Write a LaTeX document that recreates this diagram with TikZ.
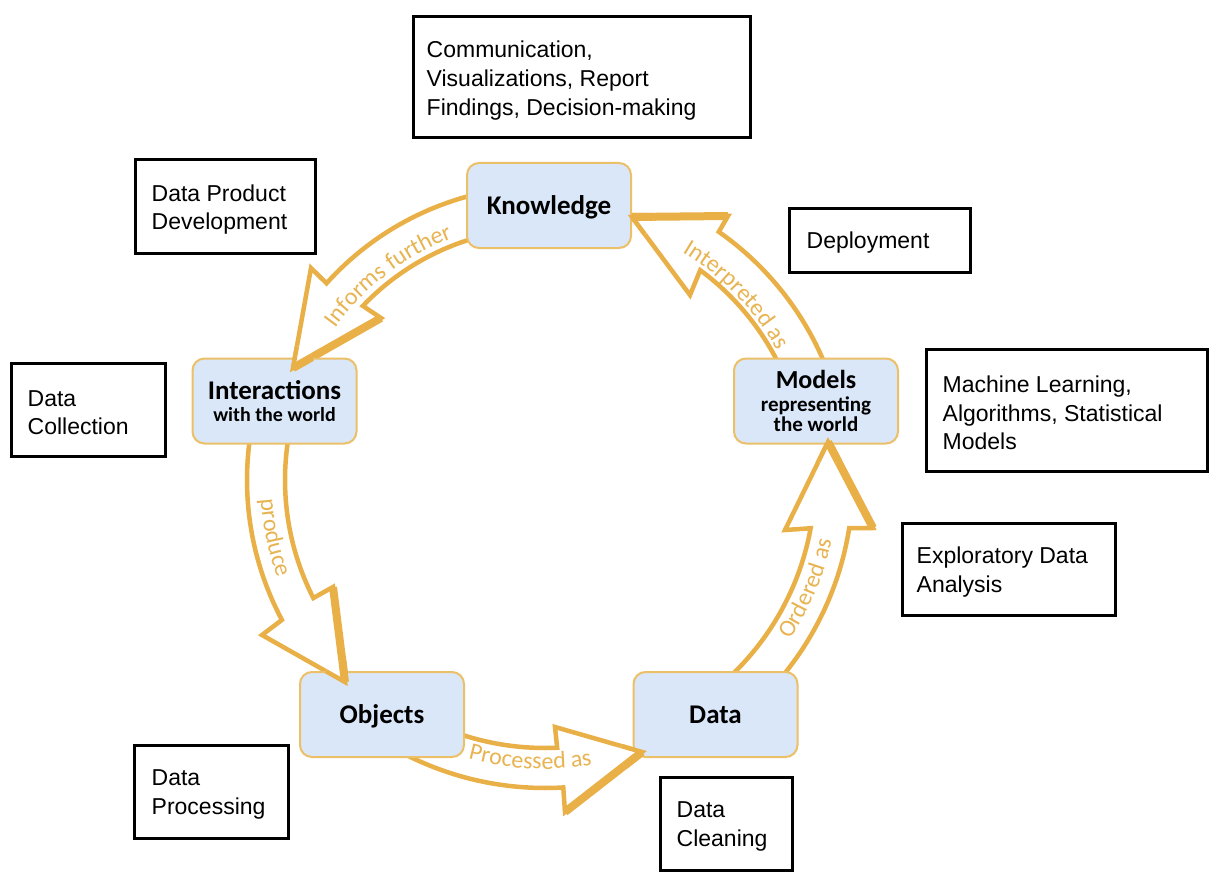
\documentclass[tikz,border=0pt]{standalone}
\usepackage{fontspec}
\setmainfont{Liberation Sans}
\newfontfamily\calib{Carlito}
\usetikzlibrary{decorations.text,calc}
\definecolor{arrowc}{RGB}{232,176,70}
\definecolor{labelc}{RGB}{232,180,82}
\definecolor{nodefill}{RGB}{218,231,248}
\definecolor{nodeline}{RGB}{236,192,104}
\newcommand\lblfont{\calib\fontsize{24}{24}\selectfont\color{labelc}}
\tikzset{
  stage/.style={draw=nodeline, line width=2pt, fill=nodefill, rounded corners=12pt,
    minimum width=164pt, minimum height=85pt, inner sep=0pt, align=center},
  oneline/.style={text height=22pt, text depth=4pt},
  infobox/.style={draw=black, line width=3pt, inner sep=0pt, fill=white},
  infotext/.style={anchor=west, align=left, inner sep=0pt, yshift=-3pt, font=\fontsize{23}{28.6}\selectfont},
  blockarrow/.style={draw=arrowc, line width=4.5pt, fill=white, line join=miter},
  shadeedge/.style={draw=arrowc, line width=8pt},
}
\def\pathA{plot[domain=-100:-138, samples=30] ({545+294*cos(\x)},{480+294*sin(\x)}) -- (311,268) -- (293,368) -- (381,318) -- plot[domain=-136.3:-100, samples=30] ({545+252*cos(\x)},{480+252*sin(\x)}) -- cycle}
\def\pathB{plot[domain=-22:-55, samples=30] ({545+303*cos(\x)},{480+303*sin(\x)}) -- (728,216) -- (632,217) -- (690,295) -- plot[domain=-53.5:-24, samples=30] ({545+261*cos(\x)},{480+261*sin(\x)}) -- cycle}
\def\pathC{plot[domain=190:152, samples=30] ({545+298*cos(\x)},{480+298*sin(\x)}) -- (262,635) -- (345,682) -- (333,587) -- plot[domain=153:190, samples=30] ({545+260*cos(\x)},{480+260*sin(\x)}) -- cycle}
\def\pathD{plot[domain=112:87.4, samples=30] ({545+268*cos(\x)},{480+268*sin(\x)}) -- (555,727) -- (642,752) -- (565,812) -- plot[domain=86.6:120, samples=30] ({545+308*cos(\x)},{480+308*sin(\x)}) -- cycle}
\def\pathE{plot[domain=48:10.3, samples=30] ({545+270*cos(\x)},{480+270*sin(\x)}) -- (785,530) -- (828,442) -- (873,528) -- plot[domain=9:42, samples=30] ({545+308*cos(\x)},{480+308*sin(\x)}) -- cycle}
\begin{document}
\begin{tikzpicture}[x=1pt, y=-1pt]
\fill[white] (0,0) rectangle (1221,880);
\useasboundingbox (0,0) rectangle (1221,880);
\coordinate (c) at (545,480);

% block arrows
\draw[blockarrow] \pathA;
\draw[shadeedge] (293,368) -- (381,318);
\draw[blockarrow] \pathB;
\draw[shadeedge] (632,217) -- (728,216);
\draw[blockarrow] \pathC;
\draw[shadeedge] (333,587) -- (345,682);
\draw[blockarrow] \pathD;
\draw[shadeedge] (642,752) -- (565,812);
\draw[blockarrow] \pathE;
\draw[shadeedge] (828,442) -- (873,528);

% arrow labels
\path[decorate, decoration={text along path, text align=center, text={|\lblfont|Informs further}}]
  plot[domain=-150:-105, samples=60] ({545+259*cos(\x)},{480+259*sin(\x)});
\path[decorate, decoration={text along path, text align=center, text={|\lblfont|Interpreted as}}]
  plot[domain=-72:-16, samples=60] ({545+266*cos(\x)},{480+266*sin(\x)});
\path[decorate, decoration={text along path, text align=center, text={|\lblfont|produce}}]
  plot[domain=192:144, samples=60] ({545+285*cos(\x)},{480+285*sin(\x)});
\path[decorate, decoration={text along path, text align=center, text={|\lblfont|Processed as}}]
  plot[domain=118:68, samples=60] ({545+289*cos(\x)},{480+289*sin(\x)});
\path[decorate, decoration={text along path, text align=center, text={|\lblfont|Ordered as}}]
  plot[domain=45:0, samples=60] ({545+293*cos(\x)},{480+293*sin(\x)});

% stage nodes
\node[stage, oneline, font=\calib\bfseries\fontsize{27}{27}\selectfont] (know) at (549,205.5) {Knowledge};
\node[stage, font=\calib\bfseries\fontsize{20}{22}\selectfont] (inter) at (274.5,401)
  {{\fontsize{27}{27}\selectfont Interactions}\\with the world};
\node[stage, font=\calib\bfseries\fontsize{21}{20}\selectfont] (models) at (816,401)
  {{\fontsize{26}{26}\selectfont Models}\\[3pt]representing\\the world};
\node[stage, oneline, font=\calib\bfseries\fontsize{27}{27}\selectfont] (objects) at (382,714.5) {Objects};
\node[stage, oneline, font=\calib\bfseries\fontsize{27}{27}\selectfont] (data) at (715.5,714.5) {Data};

% arrow tips drawn over the nodes
\begin{scope}\clip (293,368) circle (22pt); \draw[blockarrow] \pathA; \draw[shadeedge] (293,368) -- (381,318);\end{scope}
\begin{scope}\clip (632,217) circle (22pt); \draw[blockarrow] \pathB; \draw[shadeedge] (632,217) -- (728,216);\end{scope}
\begin{scope}\clip (345,682) circle (22pt); \draw[blockarrow] \pathC; \draw[shadeedge] (333,587) -- (345,682);\end{scope}
\begin{scope}\clip (642,752) circle (22pt); \draw[blockarrow] \pathD; \draw[shadeedge] (642,752) -- (565,812);\end{scope}
\begin{scope}\clip (828,442) circle (22pt); \draw[blockarrow] \pathE; \draw[shadeedge] (828,442) -- (873,528);\end{scope}

% information boxes
\node[infobox, minimum width=337pt, minimum height=121pt] (comm) at (581.5,77.5) {};
\node[infotext] (commtext) at ([xshift=15pt]comm.west) {Communication,\\Visualizations, Report\\Findings, Decision-making};
\node[infobox, minimum width=180pt, minimum height=93pt] (dpd) at (225,206.5) {};
\node[infotext] (dpdtext) at ([xshift=18pt]dpd.west) {Data Product\\Development};
\node[infobox, minimum width=181pt, minimum height=64pt] (deploy) at (879.5,240) {};
\node[infotext] (deploytext) at ([xshift=19pt]deploy.west) {Deployment};
\node[infobox, minimum width=154pt, minimum height=93pt] (dcoll) at (88,409.5) {};
\node[infotext] (dcolltext) at ([xshift=18pt]dcoll.west) {Data\\Collection};
\node[infobox, minimum width=281pt, minimum height=122pt] (ml) at (1066.5,410) {};
\node[infotext] (mltext) at ([xshift=18pt]ml.west) {Machine Learning,\\Algorithms, Statistical\\Models};
\node[infobox, minimum width=213pt, minimum height=92pt] (eda) at (1008.5,569) {};
\node[infotext] (edatext) at ([xshift=16pt]eda.west) {Exploratory Data\\Analysis};
\node[infobox, minimum width=154pt, minimum height=93pt] (dproc) at (211,791.5) {};
\node[infotext] (dproctext) at ([xshift=19pt]dproc.west) {Data\\Processing};
\node[infobox, minimum width=132pt, minimum height=93pt] (dclean) at (726,823.5) {};
\node[infotext] (dcleantext) at ([xshift=18pt]dclean.west) {Data\\Cleaning};
\end{tikzpicture}
\end{document}
